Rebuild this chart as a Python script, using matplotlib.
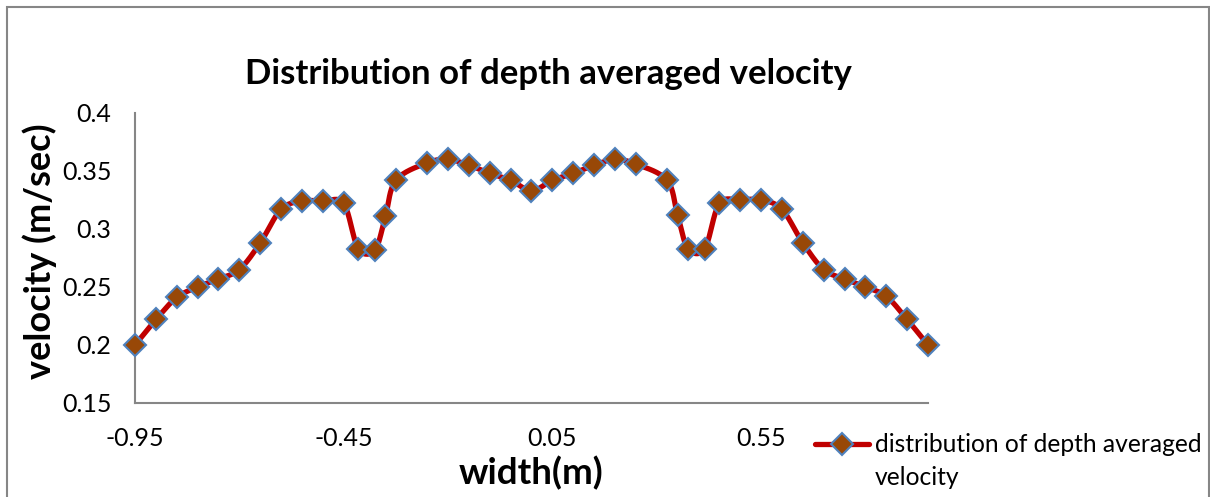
import numpy as np
import matplotlib
matplotlib.use("Agg")
import matplotlib.pyplot as plt
from matplotlib.lines import Line2D
from matplotlib.patches import Rectangle

plt.rcParams['font.family'] = ['Lato', 'DejaVu Sans']

# largura (m) e velocidade média na profundidade (m/s)
width_m = [-0.95, -0.90, -0.85, -0.80, -0.75, -0.70, -0.65, -0.60, -0.55, -0.50,
           -0.45, -0.415, -0.375, -0.35, -0.325, -0.25, -0.20, -0.15, -0.10, -0.05,
           0.0,
           0.05, 0.10, 0.15, 0.20, 0.25, 0.325, 0.35, 0.375, 0.415, 0.45,
           0.50, 0.55, 0.60, 0.65, 0.70, 0.75, 0.80, 0.85, 0.90, 0.95]
velocity = [0.200, 0.222, 0.241, 0.250, 0.257, 0.265, 0.288, 0.317, 0.324, 0.324,
            0.322, 0.283, 0.282, 0.311, 0.342, 0.357, 0.360, 0.355, 0.348, 0.342,
            0.333,
            0.342, 0.348, 0.355, 0.360, 0.356, 0.342, 0.312, 0.283, 0.283, 0.322,
            0.325, 0.325, 0.317, 0.288, 0.265, 0.257, 0.250, 0.242, 0.222, 0.200]
x_ticks = [-0.95, -0.45, 0.05, 0.55]
x_tick_labels = ['-0.95', '-0.45', '0.05', '0.55']
y_ticks = [0.15, 0.2, 0.25, 0.3, 0.35, 0.4]
y_tick_labels = ['0.15', '0.2', '0.25', '0.3', '0.35', '0.4']
series_label = 'distribution of depth averaged\nvelocity'

LINE_COLOR = '#C00000'
FACE_COLOR = '#984807'
EDGE_COLOR = '#4F81BD'
AXIS_COLOR = '#868686'
MARKER_SIZE = 11
W, H = 1210, 497


def smooth_curve(xs, ys, steps=20):
    """Linha suavizada estilo Excel (Bezier com controles de Catmull-Rom)."""
    xs = np.asarray(xs, float)
    ys = np.asarray(ys, float)
    pts = np.column_stack([xs, ys])
    out = [pts[0]]
    n = len(pts)
    t = np.linspace(0, 1, steps)[1:, None]
    for i in range(n - 1):
        p0 = pts[max(i - 1, 0)]
        p1 = pts[i]
        p2 = pts[i + 1]
        p3 = pts[min(i + 2, n - 1)]
        c1 = p1 + (p2 - p0) / 6.0
        c2 = p2 - (p3 - p1) / 6.0
        seg = ((1 - t) ** 3) * p1 + 3 * ((1 - t) ** 2) * t * c1 + 3 * (1 - t) * t ** 2 * c2 + t ** 3 * p2
        out.extend(seg)
    out = np.array(out)
    return out[:, 0], out[:, 1]


fig = plt.figure(figsize=(12.1, 4.97), dpi=100)
ax = fig.add_axes([135 / W, 1 - 403 / H, (928 - 135) / W, (403 - 113) / H])

# moldura externa do gráfico
fig.patches.append(Rectangle((7 / W, -0.05), (1209 - 7) / W, 1.05 - 7 / H,
                             transform=fig.transFigure, fill=False,
                             edgecolor=AXIS_COLOR, linewidth=1.5))

sx, sy = smooth_curve(width_m, velocity)
ax.plot(sx, sy, color=LINE_COLOR, linewidth=3.8, solid_capstyle='round', zorder=2)
ax.plot(width_m, velocity, linestyle='none', marker='D', markersize=MARKER_SIZE,
        markerfacecolor=FACE_COLOR, markeredgecolor=EDGE_COLOR, markeredgewidth=1.5,
        zorder=3, clip_on=False)

ax.set_xlim(-0.95, 0.95)
ax.set_ylim(0.15, 0.4)
ax.set_xticks(x_ticks)
ax.set_xticklabels(x_tick_labels)
ax.set_yticks(y_ticks)
ax.set_yticklabels(y_tick_labels)
ax.tick_params(length=0, labelsize=18)
ax.tick_params(axis='y', pad=17)
ax.tick_params(axis='x', pad=17)

for side in ['top', 'right']:
    ax.spines[side].set_visible(False)
for side in ['left', 'bottom']:
    ax.spines[side].set_color(AXIS_COLOR)
    ax.spines[side].set_linewidth(1.5)

fig.text(548 / W, 1 - 74 / H, 'Distribution of depth averaged velocity',
         ha='center', va='center', fontsize=25, fontweight='bold')
fig.text(40 / W, 1 - 251 / H, 'velocity (m/sec)', rotation=90,
         ha='center', va='center', fontsize=26, fontweight='bold')
fig.text(531 / W, 1 - 473 / H, 'width(m)', ha='center', va='center',
         fontsize=26.5, fontweight='bold')

# legenda estilo Excel: marcador alinhado com a primeira linha do texto
leg_y = 1 - 444 / H
fig.add_artist(Line2D([815 / W, 869 / W], [leg_y, leg_y], transform=fig.transFigure,
                      color=LINE_COLOR, linewidth=3.8, solid_capstyle='round'))
fig.add_artist(Line2D([842 / W], [leg_y], transform=fig.transFigure, linestyle='none',
                      marker='D', markersize=MARKER_SIZE, markerfacecolor=FACE_COLOR,
                      markeredgecolor=EDGE_COLOR, markeredgewidth=1.5))
fig.text(875 / W, 1 - 461 / H, series_label, ha='left', va='center',
         fontsize=17.7, linespacing=1.55)

fig.savefig('out.png', dpi=100)
